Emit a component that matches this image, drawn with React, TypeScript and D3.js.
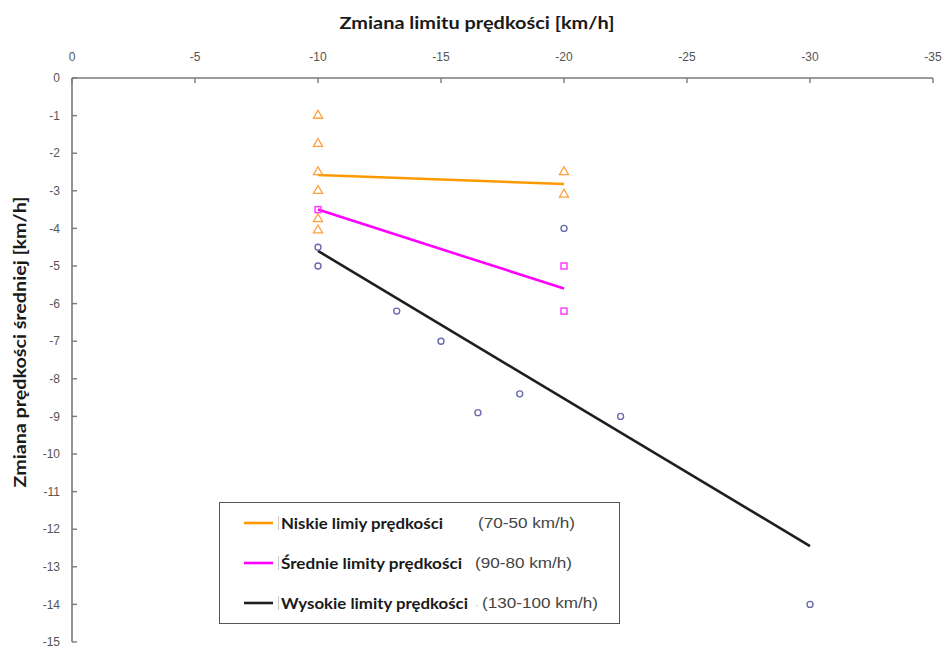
import React, { useEffect, useRef } from 'react';
import * as d3 from 'd3';

const xTicks = [0, -5, -10, -15, -20, -25, -30, -35];
const yTicks = [0, -1, -2, -3, -4, -5, -6, -7, -8, -9, -10, -11, -12, -13, -14, -15];

// niskie limity (70-50 km/h) - trójkąty
const lowX = [-10, -10, -10, -10, -10, -10, -20, -20];
const lowY = [-1, -1.75, -2.5, -3, -3.75, -4.05, -2.5, -3.1];
// średnie limity (90-80 km/h) - kwadraty
const midX = [-10, -20, -20];
const midY = [-3.5, -5, -6.2];
// wysokie limity (130-100 km/h) - kółka
const highX = [-10, -10, -13.2, -15, -16.5, -18.2, -20, -22.3, -30];
const highY = [-4.5, -5, -6.2, -7, -8.9, -8.4, -4, -9, -14];

// linie trendu
const lowFitX = [-10, -20];
const lowFitY = [-2.58, -2.82];
const midFitX = [-10, -20];
const midFitY = [-3.5, -5.6];
const highFitX = [-10, -30];
const highFitY = [-4.6, -12.45];

const legendNames = ['Niskie limiy prędkości', 'Średnie limity prędkości', 'Wysokie limity prędkości'];
const legendRanges = ['(70-50 km/h)', '(90-80 km/h)', '(130-100 km/h)'];
const legendColors = ['#ff9900', '#ff00ff', '#1e1e1e'];

const Chart: React.FC = () => {
  const ref = useRef<HTMLDivElement | null>(null);

  useEffect(() => {
    if (!ref.current) return;
    d3.select(ref.current).selectAll('*').remove();

    const W = 945;
    const H = 646;
    const svg = d3.select(ref.current)
      .append('svg')
      .attr('width', W)
      .attr('height', H)
      .style('position', 'absolute')
      .style('left', '0px')
      .style('top', '0px')
      .style('background', '#fff');

    const x = d3.scaleLinear().domain([0, -35]).range([72, 933]);
    const y = d3.scaleLinear().domain([0, -15]).range([78, 642]);

    const axisColor = '#7a7a7a';
    const labelColor = '#555';

    // oś X (u góry)
    const gx = svg.append('g').attr('transform', `translate(0,${y(0)})`);
    gx.append('line')
      .attr('x1', x(0)).attr('x2', x(-35))
      .attr('stroke', axisColor).attr('stroke-width', 1.6);
    gx.selectAll('line.tick')
      .data(xTicks)
      .enter()
      .append('line')
      .attr('class', 'tick')
      .attr('x1', d => x(d)).attr('x2', d => x(d))
      .attr('y1', 0).attr('y2', 5)
      .attr('stroke', axisColor).attr('stroke-width', 1.4);
    gx.selectAll('text')
      .data(xTicks)
      .enter()
      .append('text')
      .attr('x', d => x(d))
      .attr('y', -17)
      .attr('text-anchor', 'middle')
      .attr('font-family', 'Liberation Sans, Arial, sans-serif')
      .attr('font-size', 12)
      .attr('fill', labelColor)
      .text(d => String(d));

    // oś Y
    const gy = svg.append('g').attr('transform', `translate(${x(0)},0)`);
    gy.append('line')
      .attr('y1', y(0)).attr('y2', y(-15))
      .attr('stroke', axisColor).attr('stroke-width', 1.6);
    gy.selectAll('line.tick')
      .data(yTicks)
      .enter()
      .append('line')
      .attr('class', 'tick')
      .attr('y1', d => y(d)).attr('y2', d => y(d))
      .attr('x1', 0).attr('x2', 5)
      .attr('stroke', axisColor).attr('stroke-width', 1.4);
    gy.selectAll('text')
      .data(yTicks)
      .enter()
      .append('text')
      .attr('x', -12)
      .attr('y', d => y(d))
      .attr('dy', '0.35em')
      .attr('text-anchor', 'end')
      .attr('font-family', 'Liberation Sans, Arial, sans-serif')
      .attr('font-size', 12)
      .attr('fill', labelColor)
      .text(d => String(d));

    // tytuły osi
    svg.append('text')
      .attr('x', 477)
      .attr('y', 29)
      .attr('text-anchor', 'middle')
      .attr('font-family', 'Lato, Open Sans, sans-serif')
      .attr('font-weight', 'bold')
      .attr('font-size', 17)
      .attr('fill', '#1a1a1a')
      .attr('textLength', 275)
      .attr('lengthAdjust', 'spacingAndGlyphs')
      .text('Zmiana limitu prędkości [km/h]');

    svg.append('text')
      .attr('transform', `translate(26,342) rotate(-90)`)
      .attr('text-anchor', 'middle')
      .attr('font-family', 'Lato, Open Sans, sans-serif')
      .attr('font-weight', 'bold')
      .attr('font-size', 17)
      .attr('fill', '#1a1a1a')
      .attr('textLength', 291)
      .attr('lengthAdjust', 'spacingAndGlyphs')
      .text('Zmiana prędkości średniej [km/h]');

    // linie trendu
    const line = d3.line<[number, number]>()
      .x(d => x(d[0]))
      .y(d => y(d[1]));
    const fits: [number[], number[], string][] = [
      [lowFitX, lowFitY, legendColors[0]],
      [midFitX, midFitY, legendColors[1]],
      [highFitX, highFitY, legendColors[2]],
    ];
    fits.forEach(([fx, fy, c]) => {
      svg.append('path')
        .datum(fx.map((v, i) => [v, fy[i]] as [number, number]))
        .attr('d', line)
        .attr('fill', 'none')
        .attr('stroke', c)
        .attr('stroke-width', 2.6);
    });

    // punkty - trójkąty
    const tri = d3.symbol().type(d3.symbolTriangle).size(36);
    svg.append('g')
      .selectAll('path')
      .data(lowX.map((v, i) => [v, lowY[i]]))
      .enter()
      .append('path')
      .attr('d', tri)
      .attr('transform', d => `translate(${x(d[0])},${y(d[1])})`)
      .attr('fill', 'none')
      .attr('stroke', '#ffa040')
      .attr('stroke-width', 1.3);

    // kwadraty
    svg.append('g')
      .selectAll('rect')
      .data(midX.map((v, i) => [v, midY[i]]))
      .enter()
      .append('rect')
      .attr('x', d => x(d[0]) - 3)
      .attr('y', d => y(d[1]) - 3)
      .attr('width', 6)
      .attr('height', 6)
      .attr('fill', 'none')
      .attr('stroke', '#ff33ff')
      .attr('stroke-width', 1.4);

    // kółka
    svg.append('g')
      .selectAll('circle')
      .data(highX.map((v, i) => [v, highY[i]]))
      .enter()
      .append('circle')
      .attr('cx', d => x(d[0]))
      .attr('cy', d => y(d[1]))
      .attr('r', 3)
      .attr('fill', 'none')
      .attr('stroke', '#6a6aae')
      .attr('stroke-width', 1.4);

    // legenda
    const lg = svg.append('g');
    lg.append('rect')
      .attr('x', 219.5).attr('y', 502.5)
      .attr('width', 400).attr('height', 121)
      .attr('fill', '#fff')
      .attr('stroke', '#555')
      .attr('stroke-width', 1);
    const rowsY = [523, 563, 603];
    const nameW = [162, 181, 187];
    const rangeX = [478, 475, 482];
    const rangeW = [97, 97, 116];
    legendNames.forEach((name, i) => {
      lg.append('line')
        .attr('x1', 244).attr('x2', 273)
        .attr('y1', rowsY[i]).attr('y2', rowsY[i])
        .attr('stroke', legendColors[i])
        .attr('stroke-width', 2.6);
      lg.append('line')
        .attr('x1', 278.5).attr('x2', 278.5)
        .attr('y1', rowsY[i] - 7).attr('y2', rowsY[i] + 7)
        .attr('stroke', '#c8c8c8')
        .attr('stroke-width', 1);
      lg.append('text')
        .attr('x', 281)
        .attr('y', rowsY[i])
        .attr('dy', '0.35em')
        .attr('font-family', 'Lato, Open Sans, sans-serif')
        .attr('font-weight', 'bold')
        .attr('font-size', 16)
        .attr('fill', '#1a1a1a')
        .attr('textLength', nameW[i])
        .attr('lengthAdjust', 'spacingAndGlyphs')
        .text(name);
      lg.append('text')
        .attr('x', rangeX[i])
        .attr('y', rowsY[i])
        .attr('dy', '0.35em')
        .attr('font-family', 'Liberation Sans, Arial, sans-serif')
        .attr('font-size', 14)
        .attr('fill', '#444')
        .attr('textLength', rangeW[i])
        .attr('lengthAdjust', 'spacingAndGlyphs')
        .text(legendRanges[i]);
    });
    lg.append('circle')
      .attr('cx', 477).attr('cy', rowsY[2] + 3)
      .attr('r', 0.8)
      .attr('fill', '#bbb');
  }, []);

  return <div ref={ref} />;
};

export default function App() {
  return <Chart />;
}
